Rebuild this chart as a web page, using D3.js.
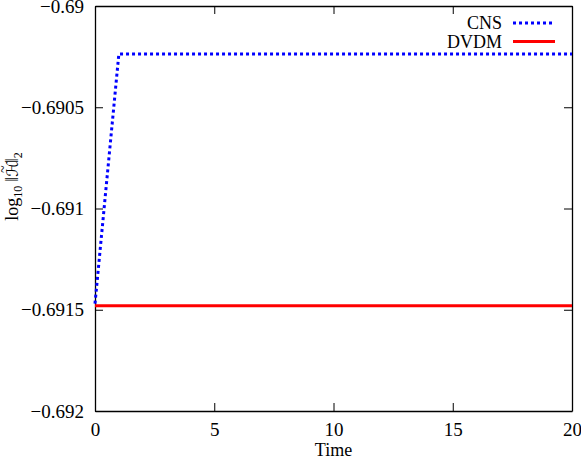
<!DOCTYPE html>
<html>
<head>
<meta charset="utf-8">
<script src="https://cdn.jsdelivr.net/npm/d3@7"></script>
<style>
  body { margin: 0; background: #fff; }
</style>
</head>
<body>
<div id="plot"></div>
<script>
// Data
const time = [0, 1, 20];
const cnsValues = [-0.69147, -0.690237, -0.690237];
const dvdmValues = [-0.69148, -0.69148, -0.69148];
const xTicks = [0, 5, 10, 15, 20];
const yTicks = [-0.692, -0.6915, -0.691, -0.6905, -0.69];
const seriesNames = ['CNS', 'DVDM'];

const serif = '"Liberation Serif", "DejaVu Serif", serif';
const W = 581, H = 459;
const margin = {top: 6, right: 9, bottom: 48, left: 95};
const width = W - margin.left - margin.right,
      height = H - margin.top - margin.bottom;

const svg = d3.select('#plot')
  .append('svg')
    .attr('width', W)
    .attr('height', H)
    .attr('font-family', serif)
  .append('g')
    .attr('transform', 'translate(' + margin.left + ',' + margin.top + ')');

const x = d3.scaleLinear().domain([0, 20]).range([0, width]);
const y = d3.scaleLinear().domain([-0.692, -0.69]).range([height, 0]);

const fmt = d => (d < 0 ? '\u2212' : '') + String(Math.abs(d));

// Bottom axis
const xAxis = svg.append('g')
  .attr('transform', 'translate(0,' + height + ')')
  .call(d3.axisBottom(x).tickValues(xTicks).tickSizeInner(-8).tickSizeOuter(0).tickPadding(11).tickFormat(d => d));
// Left axis
const yAxis = svg.append('g')
  .call(d3.axisLeft(y).tickValues(yTicks).tickSizeInner(-8).tickSizeOuter(0).tickPadding(11).tickFormat(fmt));
// Top and right mirror ticks
const topAxis = svg.append('g')
  .call(d3.axisTop(x).tickValues(xTicks).tickSizeInner(-8).tickSizeOuter(0).tickFormat(''));
const rightAxis = svg.append('g')
  .attr('transform', 'translate(' + width + ',0)')
  .call(d3.axisRight(y).tickValues(yTicks).tickSizeInner(-8).tickSizeOuter(0).tickFormat(''));

[xAxis, yAxis, topAxis, rightAxis].forEach(a => {
  a.attr('font-family', serif).attr('font-size', 19);
});
svg.selectAll('.domain').attr('stroke', '#000').attr('stroke-width', 1.3);
svg.selectAll('.tick line').attr('stroke', '#000').attr('stroke-width', 1);
svg.selectAll('.tick text').attr('fill', '#000')
  .style('font-family', serif).style('font-size', '19px');
xAxis.selectAll('.tick text').attr('dy', '0.72em');

// Axis labels
svg.append('text')
  .attr('x', width / 2)
  .attr('y', height + 45)
  .attr('text-anchor', 'middle')
  .attr('font-size', 18)
  .text('Time');

const yl = svg.append('text')
  .attr('transform', 'translate(' + (-77) + ',' + (height / 2 - 22) + ') rotate(-90)')
  .attr('text-anchor', 'middle')
  .attr('font-size', 18);
yl.append('tspan').text('log');
yl.append('tspan').attr('font-size', 12).attr('dy', 4).text('10');
yl.append('tspan').attr('dy', -4).attr('dx', 4).text('\u2016');
yl.append('tspan').attr('font-family', '"DejaVu Sans", sans-serif').attr('font-size', 16).text('\u210B');
yl.append('tspan').attr('font-size', 14).attr('dx', -12).attr('dy', -10).text('~');
yl.append('tspan').attr('dy', 10).attr('dx', 2).text('\u2016');
yl.append('tspan').attr('font-size', 12).attr('dy', 4).text('2');

// Lines
const line = d3.line()
  .x(d => x(d[0]))
  .y(d => y(d[1]));

svg.append('path')
  .datum(time.map((t, i) => [t, dvdmValues[i]]))
  .attr('fill', 'none')
  .attr('stroke', '#ff0000')
  .attr('stroke-width', 3)
  .attr('d', line);

svg.append('path')
  .datum(time.map((t, i) => [t, cnsValues[i]]))
  .attr('fill', 'none')
  .attr('stroke', '#0000ff')
  .attr('stroke-width', 3)
  .attr('stroke-dasharray', '3,3')
  .attr('d', line);

// Legend
const legend = svg.append('g');
const legendStyles = [
  {stroke: '#0000ff', dash: '3,3'},
  {stroke: '#ff0000', dash: null}
];
seriesNames.forEach((name, i) => {
  const ly = 17 + i * 18.5;
  legend.append('text')
    .attr('x', 407)
    .attr('y', ly)
    .attr('dy', '0.35em')
    .attr('text-anchor', 'end')
    .attr('font-size', 18)
    .text(name);
  legend.append('line')
    .attr('x1', 418)
    .attr('x2', 460)
    .attr('y1', ly)
    .attr('y2', ly)
    .attr('stroke', legendStyles[i].stroke)
    .attr('stroke-width', 3)
    .attr('stroke-dasharray', legendStyles[i].dash);
});
</script>
</body>
</html>
